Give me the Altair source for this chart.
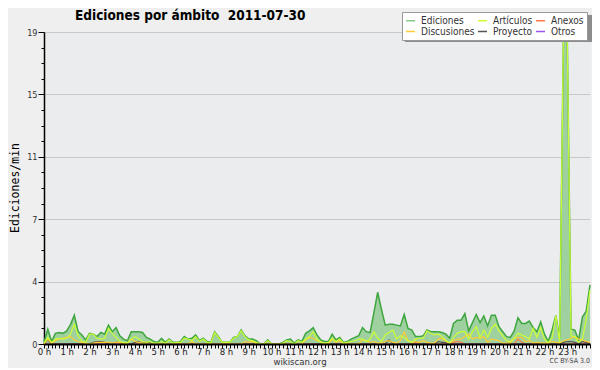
import altair as alt
import pandas as pd

# ---------------- data (editions per minute, 10-minute bins, 0h..24h) ----------------
series = ["Ediciones", "Artículos", "Anexos", "Discusiones", "Proyecto", "Otros"]
colors = ["#88cc88", "#ccff33", "#ff7744", "#ffcc33", "#555555", "#9955ee"]

ediciones = [
    0.1, 0.9, 0.15, 0.65, 0.7, 0.65,
    0.8, 1.2, 1.75, 0.75, 0.55, 0.25,
    0.65, 0.6, 0.45, 0.7, 0.6, 1.15,
    0.75, 1.0, 0.5, 0.3, 0.2, 0.75,
    0.75, 0.75, 0.7, 0.4, 0.3, 0.15,
    0.1, 0.35, 0.1, 0.3, 0.1, 0.1,
    0.15, 0.45, 0.3, 0.35, 0.55, 0.2,
    0.35, 0.15, 0.1, 0.75, 0.45, 0.1,
    0.1, 0.1, 0.4, 0.45, 0.85, 0.5,
    0.3, 0.3, 0.2, 0.0, 0.0, 0.25,
    0.0, 0.0, 0.0, 0.1, 0.25, 0.3,
    0.05, 0.25, 0.15, 0.65, 0.8, 1.0,
    0.55, 0.25, 0.15, 0.15, 0.6, 0.25,
    0.4, 0.1, 0.15, 0.3, 0.4, 0.5,
    1.0, 0.75, 0.7, 1.9, 3.15, 2.1,
    1.15, 1.2, 1.2, 1.15, 1.1, 1.8,
    0.95, 0.85, 0.45, 0.45, 0.5, 0.85,
    0.75, 0.75, 0.75, 0.7, 0.6, 0.35,
    1.25, 1.45, 1.45, 1.85, 0.8, 1.3,
    1.8, 1.3, 1.7, 1.1, 1.75, 1.75,
    1.05, 0.75, 0.45, 0.4, 0.8, 1.6,
    1.25, 1.25, 1.4, 1.0, 0.75, 1.35,
    0.6, 0.15, 0.85, 1.75, 0.35, 19.0,
    18.8, 0.9, 0.85, 0.25, 1.65, 2.0,
    3.6,
]
articulos = [
    0.05, 0.4, 0.1, 0.3, 0.35, 0.3,
    0.35, 0.6, 1.2, 0.5, 0.15, 0.1,
    0.6, 0.6, 0.35, 0.3, 0.35, 0.95,
    0.65, 0.4, 0.15, 0.1, 0.05, 0.3,
    0.45, 0.3, 0.15, 0.1, 0.15, 0.05,
    0.05, 0.15, 0.05, 0.25, 0.05, 0.1,
    0.1, 0.35, 0.3, 0.2, 0.45, 0.15,
    0.3, 0.1, 0.05, 0.7, 0.4, 0.1,
    0.1, 0.1, 0.35, 0.45, 0.8, 0.45,
    0.25, 0.2, 0.1, 0.0, 0.0, 0.2,
    0.0, 0.0, 0.0, 0.05, 0.2, 0.15,
    0.0, 0.2, 0.1, 0.3, 0.45, 0.75,
    0.3, 0.1, 0.05, 0.1, 0.35, 0.15,
    0.3, 0.05, 0.1, 0.15, 0.2, 0.3,
    0.3, 0.15, 0.3, 0.75, 0.35, 0.15,
    0.55, 0.7, 0.85, 0.3, 0.5, 0.4,
    0.2, 0.1, 0.3, 0.35, 0.35, 0.8,
    0.65, 0.55, 0.6, 0.45, 0.2, 0.05,
    0.4, 0.65, 0.75, 0.75, 0.3, 0.75,
    1.05, 0.4, 0.85, 0.4, 0.95, 1.2,
    0.8, 0.5, 0.2, 0.15, 0.35, 0.65,
    0.55, 0.45, 0.3, 0.95, 0.4, 1.0,
    0.3, 0.1, 0.35, 1.75, 0.1, 19.0,
    18.8, 0.5, 0.45, 0.1, 0.3, 1.5,
    3.3,
]
discusiones = [
    0.0, 0.3, 0.05, 0.2, 0.3, 0.35,
    0.4, 0.45, 0.25, 0.15, 0.1, 0.05,
    0.0, 0.05, 0.1, 0.1, 0.1, 0.1,
    0.05, 0.1, 0.1, 0.05, 0.05, 0.3,
    0.15, 0.1, 0.05, 0.0, 0.0, 0.0,
    0.0, 0.0, 0.0, 0.0, 0.0, 0.0,
    0.0, 0.0, 0.0, 0.15, 0.0, 0.0,
    0.0, 0.0, 0.0, 0.0, 0.0, 0.0,
    0.0, 0.0, 0.0, 0.0, 0.0, 0.15,
    0.1, 0.15, 0.0, 0.0, 0.0, 0.0,
    0.0, 0.0, 0.0, 0.0, 0.0, 0.0,
    0.0, 0.0, 0.0, 0.25, 0.4, 0.35,
    0.2, 0.15, 0.0, 0.0, 0.3, 0.1,
    0.2, 0.0, 0.0, 0.0, 0.0, 0.0,
    0.25, 0.2, 0.1, 0.15, 0.05, 0.05,
    0.15, 0.2, 0.1, 0.05, 0.2, 0.75,
    0.2, 0.1, 0.15, 0.1, 0.2, 0.1,
    0.05, 0.05, 0.3, 0.35, 0.15, 0.05,
    0.2, 0.3, 0.3, 0.45, 0.6, 0.3,
    0.4, 0.35, 0.45, 0.1, 0.3, 0.25,
    0.2, 0.05, 0.05, 0.05, 0.35, 0.4,
    0.4, 0.15, 0.2, 0.05, 0.1, 0.05,
    0.05, 0.05, 0.15, 0.1, 0.05, 0.2,
    0.25, 0.35, 0.45, 0.3, 0.25, 0.15,
    0.1,
]
proyecto = [
    0.0, 0.25, 0.0, 0.0, 0.0, 0.0,
    0.0, 0.0, 0.0, 0.0, 0.0, 0.0,
    0.0, 0.1, 0.15, 0.15, 0.1, 0.0,
    0.0, 0.1, 0.1, 0.0, 0.0, 0.0,
    0.1, 0.15, 0.05, 0.1, 0.05, 0.0,
    0.0, 0.0, 0.0, 0.0, 0.0, 0.0,
    0.0, 0.0, 0.0, 0.0, 0.0, 0.0,
    0.0, 0.0, 0.0, 0.0, 0.0, 0.0,
    0.0, 0.0, 0.0, 0.0, 0.0, 0.0,
    0.0, 0.0, 0.0, 0.0, 0.0, 0.0,
    0.0, 0.0, 0.0, 0.0, 0.0, 0.0,
    0.0, 0.0, 0.0, 0.0, 0.0, 0.0,
    0.0, 0.0, 0.0, 0.0, 0.0, 0.0,
    0.0, 0.0, 0.0, 0.0, 0.0, 0.0,
    0.0, 0.0, 0.0, 0.0, 0.0, 0.0,
    0.0, 0.25, 0.0, 0.0, 0.0, 0.0,
    0.0, 0.0, 0.0, 0.0, 0.0, 0.0,
    0.0, 0.0, 0.15, 0.1, 0.1, 0.0,
    0.0, 0.0, 0.0, 0.0, 0.0, 0.0,
    0.0, 0.0, 0.0, 0.0, 0.0, 0.0,
    0.0, 0.0, 0.0, 0.0, 0.0, 0.0,
    0.0, 0.0, 0.0, 0.0, 0.0, 0.0,
    0.0, 0.0, 0.0, 0.0, 0.0, 0.1,
    0.15, 0.15, 0.1, 0.0, 0.15, 0.1,
    0.0,
]
anexos = [
    0.0, 0.0, 0.0, 0.0, 0.0, 0.0,
    0.0, 0.0, 0.0, 0.0, 0.0, 0.0,
    0.0, 0.0, 0.0, 0.0, 0.0, 0.0,
    0.0, 0.0, 0.0, 0.0, 0.0, 0.0,
    0.0, 0.0, 0.0, 0.0, 0.0, 0.0,
    0.0, 0.0, 0.0, 0.0, 0.0, 0.0,
    0.0, 0.0, 0.0, 0.0, 0.0, 0.0,
    0.0, 0.0, 0.0, 0.0, 0.0, 0.0,
    0.0, 0.0, 0.0, 0.0, 0.0, 0.0,
    0.0, 0.0, 0.0, 0.0, 0.0, 0.0,
    0.0, 0.0, 0.0, 0.0, 0.0, 0.0,
    0.0, 0.0, 0.0, 0.0, 0.0, 0.0,
    0.0, 0.0, 0.0, 0.0, 0.0, 0.0,
    0.0, 0.0, 0.0, 0.0, 0.0, 0.0,
    0.0, 0.0, 0.0, 0.0, 0.0, 0.0,
    0.0, 0.0, 0.0, 0.0, 0.0, 0.0,
    0.0, 0.0, 0.1, 0.0, 0.0, 0.0,
    0.0, 0.0, 0.0, 0.0, 0.0, 0.0,
    0.1, 0.15, 0.1, 0.0, 0.0, 0.0,
    0.0, 0.0, 0.0, 0.0, 0.0, 0.0,
    0.0, 0.0, 0.0, 0.0, 0.0, 0.3,
    0.1, 0.0, 0.0, 0.0, 0.0, 0.0,
    0.0, 0.0, 0.0, 0.0, 0.0, 0.0,
    0.0, 0.0, 0.1, 0.0, 0.0, 0.15,
    0.0,
]
otros = [0.0] * 145

y_tick_labels = ["0", "4", "7", "11", "15", "19"]
y_max = 19
title_text = "Ediciones por ámbito\u00a0\u00a02011-07-30"
y_title = "Ediciones/min"

# ---------------- build tables ----------------
minutes = [i * 10 for i in range(len(ediciones))]
df_total = pd.DataFrame({"minute": minutes, "value": ediciones, "serie": "Ediciones"})
others = {"Otros": otros, "Anexos": anexos, "Proyecto": proyecto,
          "Discusiones": discusiones, "Artículos": articulos}
df_lines = pd.concat(
    [pd.DataFrame({"minute": minutes, "value": v, "serie": k, "ord": n})
     for n, (k, v) in enumerate(others.items())],
    ignore_index=True,
)

FONT = "DejaVu Sans Condensed, DejaVu Sans"

x_ticks = list(range(0, 1441, 10))
x_enc = alt.X(
    "minute:Q",
    scale=alt.Scale(domain=[0, 1440], nice=False, zero=False),
    axis=alt.Axis(
        values=x_ticks,
        labelExpr="datum.value % 60 == 0 && datum.value < 1440 ? (datum.value / 60) + ' h' : ''",
        title=None, grid=False, tickSize=4, tickColor="#000", tickWidth=1,
        domainColor="#000", domainWidth=2, labelFont=FONT, labelFontSize=9.5,
        labelColor="#222", labelPadding=-2, labelOverlap=False, labelFlush=False,
        zindex=1,
    ),
)
step = y_max / 20
y_ticks = [round(k * step, 4) for k in range(21)]
lab_arr = "[" + ",".join("'%s'" % s for s in y_tick_labels) + "]"
major_test = "round(datum.value / %s) %% 4 == 0" % step
y_enc = alt.Y(
    "value:Q",
    scale=alt.Scale(domain=[0, y_max], nice=False),
    axis=alt.Axis(
        values=y_ticks,
        labelExpr="%s ? %s[round(datum.value / %s)] : ''" % (major_test, lab_arr, step * 4),
        title=None,
        tickSize={"condition": {"test": major_test, "value": 6}, "value": 3},
        tickColor="#000", domainColor="#000", domainWidth=1.5,
        grid=True, gridColor="#c8c8c8", gridWidth=1,
        gridOpacity={"condition": {"test": major_test, "value": 1}, "value": 0},
        labelFont=FONT, labelFontSize=9, labelColor="#333", labelPadding=1,
        labelOverlap=False, labelFlush=False, zindex=0,
    ),
)

area = alt.Chart(df_total).mark_area(color="#9fd09f", opacity=1).encode(x=x_enc, y=y_enc)
total_line = alt.Chart(df_total).mark_line(color="#3ea63e", strokeWidth=1.5).encode(x=x_enc, y=y_enc)
lines = alt.Chart(df_lines).mark_line(strokeWidth=1.2).encode(
    x=x_enc, y=y_enc,
    color=alt.Color(
        "serie:N",
        scale=alt.Scale(domain=series, range=colors),
        legend=alt.Legend(
            title=None, orient="none", legendX=358, legendY=-20, columns=3,
            direction="horizontal", symbolType="stroke", symbolSize=81,
            symbolStrokeWidth=1.5, labelFont=FONT, labelFontSize=10, labelColor="#333",
            fillColor="#ffffff", strokeColor="#999999", padding=3,
            rowPadding=0, columnPadding=0, labelOffset=5,
        ),
    ),
    order="ord:Q",
)

# legend drop shadow (decoration)
shadow = alt.Chart(pd.DataFrame({"s": [1]})).mark_rect(color="#8c8c8c").encode(
    x=alt.value(361), x2=alt.value(548), y=alt.value(-17), y2=alt.value(10)
)

title = alt.Chart(pd.DataFrame({"t": [title_text]})).mark_text(
    align="left", baseline="alphabetic", font=FONT, fontSize=13.5, fontWeight="bold", color="#000"
).encode(text="t:N", x=alt.value(31), y=alt.value(-12))

ytitle = alt.Chart(pd.DataFrame({"t": [y_title]})).mark_text(
    align="center", baseline="middle", angle=270, font="DejaVu Sans Mono", fontSize=11.5, color="#000"
).encode(text="t:N", x=alt.value(-28), y=alt.value(156))

credit1 = alt.Chart(pd.DataFrame({"t": ["wikiscan.org"]})).mark_text(
    align="center", baseline="middle", font=FONT, fontSize=9.5, color="#333"
).encode(text="t:N", x=alt.value(256), y=alt.value(330))

credit2 = alt.Chart(pd.DataFrame({"t": ["CC BY-SA 3.0"]})).mark_text(
    align="right", baseline="middle", font=FONT, fontSize=7, color="#444"
).encode(text="t:N", x=alt.value(546), y=alt.value(329))

chart = alt.layer(area, total_line, lines, shadow, title, ytitle, credit1, credit2).properties(
    width=546, height=312,
    padding={"left": 36, "top": 24, "right": 2, "bottom": 24},
    autosize="none",
    background="#efefef",
).configure_view(fill="#ebecee", stroke=None)

chart.save("out.html", embed_options={"renderer": "svg", "actions": False})
